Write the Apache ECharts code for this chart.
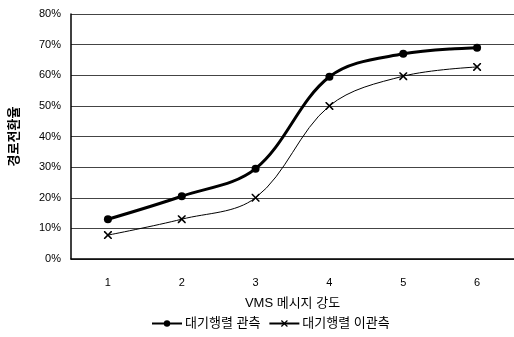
<!DOCTYPE html>
<html><head><meta charset="utf-8">
<script src="https://cdn.jsdelivr.net/npm/echarts@6/dist/echarts.min.js"></script>
<style>html,body{margin:0;padding:0;background:#fff}#c{width:514px;height:337px}</style>
</head><body><div id="c"></div>
<script>
const categories = ['1','2','3','4','5','6'];
const seriesNames = ['대기행렬 관측','대기행렬 이관측'];
const observed = [13, 20.5, 29.5, 59.5, 67, 69];
const unobserved = [7.8, 13, 20, 50, 59.7, 62.7];
const yTicks = [0,10,20,30,40,50,60,70,80];
const xName = 'VMS 메시지 강도';
const yName = '경로전환율';

const crossPath = 'path://M0,0L1.4,0L5,3.6L8.6,0L10,0L10,1.4L6.4,5L10,8.6L10,10L8.6,10L5,6.4L1.4,10L0,10L0,8.6L3.6,5L0,1.4Z';
const font = 'Arial, "Liberation Sans", "Noto Sans CJK KR", sans-serif';
const chart = echarts.init(document.getElementById('c'));
chart.setOption({
  animation:false,
  textStyle:{fontFamily:font, color:'#000'},
  grid:{left:66, top:14, width:452, height:245},
  xAxis:{type:'category', data:categories, boundaryGap:true,
    name:xName, nameLocation:'middle', nameGap:38,
    nameTextStyle:{fontSize:13, color:'#000', fontFamily:font},
    axisLine:{lineStyle:{color:'#000', width:1.5}},
    axisTick:{inside:true, length:4, lineStyle:{color:'#000'}},
    axisLabel:{fontSize:11, color:'#000', margin:18}},
  yAxis:{type:'value', min:0, max:80, interval:10,
    name:yName, nameLocation:'middle', nameRotate:90, nameGap:50,
    nameTextStyle:{fontSize:13, fontWeight:'bold', color:'#000', fontFamily:font},
    axisLine:{show:true, lineStyle:{color:'#000', width:1.5}},
    axisTick:{show:false},
    splitLine:{lineStyle:{color:'#444', width:1}},
    axisLabel:{fontSize:11, color:'#000', margin:10,
      formatter:v=> yTicks.includes(v) ? v+'%' : ''}},
  legend:{bottom:2, left:146, itemWidth:30, itemHeight:8, itemGap:8,
    textStyle:{fontSize:13, color:'#000', fontFamily:font, padding:[0,0,0,-2]},
    data:seriesNames},
  series:[
    {name:seriesNames[0], type:'line', data:observed, smooth:0.35,
      symbol:'circle', symbolSize:8,
      lineStyle:{color:'#000', width:3}, itemStyle:{color:'#000'}},
    {name:seriesNames[1], type:'line', data:unobserved, smooth:0.35,
      symbol:crossPath, symbolSize:8,
      lineStyle:{color:'#000', width:1}, itemStyle:{color:'#000'}}
  ]
});
</script></body></html>
